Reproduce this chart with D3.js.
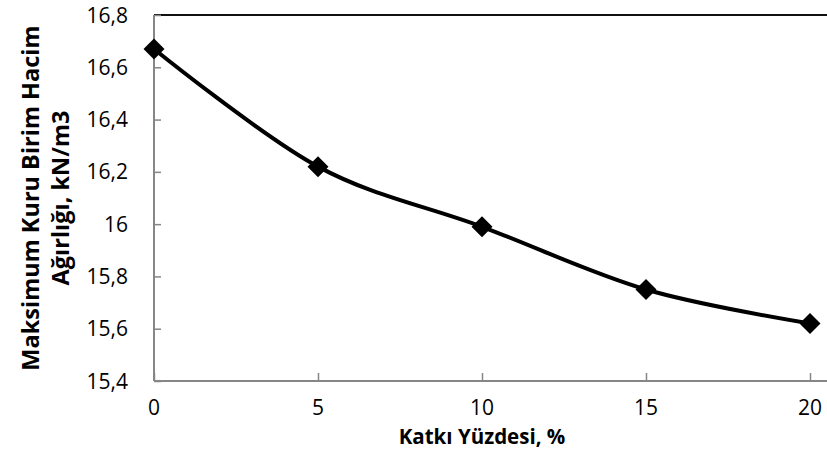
<!DOCTYPE html>
<html>
<head>
<meta charset="utf-8">
<script src="https://cdn.jsdelivr.net/npm/d3@7"></script>
<style>
  html, body { margin: 0; padding: 0; background: #fff; }
  svg { display: block; }
  text { font-family: "Open Sans", "Noto Sans", sans-serif; fill: #000; }
  .title { font-weight: bold; }
</style>
</head>
<body>
<svg id="chart" width="827" height="475"></svg>
<script>
// Additive percentage vs. maximum dry unit weight
const katki = [0, 5, 10, 15, 20];
const birimHacim = [16.67, 16.22, 15.99, 15.75, 15.62];
const xTicks = [0, 5, 10, 15, 20];
const yTicks = [15.4, 15.6, 15.8, 16.0, 16.2, 16.4, 16.6, 16.8];

const svg = d3.select("#chart");
const plotLeft = 154, plotRight = 810, plotTop = 15, plotBottom = 381;

const x = d3.scaleLinear().domain([0, 20]).range([plotLeft, plotRight]);
const y = d3.scaleLinear().domain([15.4, 16.8]).range([plotBottom, plotTop]);
const fmt = v => String(+v.toFixed(1)).replace(".", ",");

// top border line at the maximum value
svg.append("line")
  .attr("x1", plotLeft).attr("x2", 827)
  .attr("y1", y(16.8)).attr("y2", y(16.8))
  .attr("stroke", "#111").attr("stroke-width", 2);

// y axis: ticks point into the plot
const yAxis = svg.append("g")
  .attr("transform", `translate(${plotLeft},0)`)
  .call(d3.axisRight(y).tickValues(yTicks).tickSize(7).tickFormat(""));
yAxis.select(".domain").attr("stroke", "#868686").attr("stroke-width", 2).attr("d", `M0,${plotTop}V${plotBottom}`);
yAxis.selectAll(".tick line").attr("stroke", "#868686").attr("stroke-width", 1.5);

svg.append("g").selectAll("text").data(yTicks).join("text")
  .attr("x", 128).attr("y", d => y(d))
  .attr("dy", "0.36em")
  .attr("text-anchor", "end")
  .attr("font-size", 21)
  .text(fmt);

// x axis: ticks point up into the plot
const xAxis = svg.append("g")
  .attr("transform", `translate(0,${plotBottom})`)
  .call(d3.axisTop(x).tickValues(xTicks).tickSize(8).tickFormat(""));
xAxis.select(".domain").attr("stroke", "#868686").attr("stroke-width", 2).attr("d", `M${plotLeft},0H827`);
xAxis.selectAll(".tick line").attr("stroke", "#868686").attr("stroke-width", 1.5);

svg.append("g").selectAll("text").data(xTicks).join("text")
  .attr("x", d => x(d)).attr("y", 407)
  .attr("dy", "0.36em")
  .attr("text-anchor", "middle")
  .attr("font-size", 21)
  .text(d => d);

// smoothed data line
const pts = katki.map((k, i) => [k, birimHacim[i]]);
svg.append("path")
  .datum(pts)
  .attr("fill", "none")
  .attr("stroke", "#000")
  .attr("stroke-width", 4)
  .attr("d", d3.line().x(d => x(d[0])).y(d => y(d[1])).curve(d3.curveCardinal.tension(0)));

// diamond markers
svg.append("g").selectAll("path").data(pts).join("path")
  .attr("transform", d => `translate(${x(d[0])},${y(d[1])})`)
  .attr("d", "M0,-10.5L10.5,0L0,10.5L-10.5,0Z")
  .attr("fill", "#000");

// axis titles
svg.append("text")
  .attr("class", "title")
  .attr("x", 482).attr("y", 437).attr("dy", "0.36em")
  .attr("text-anchor", "middle")
  .attr("font-size", 20.5)
  .text("Katkı Yüzdesi, %");

const yt = svg.append("text")
  .attr("class", "title")
  .attr("transform", "translate(0,198) rotate(-90)")
  .attr("text-anchor", "middle")
  .attr("font-size", 23.5);
yt.append("tspan").attr("x", 0).attr("y", 39).text("Maksimum Kuru Birim Hacim");
yt.append("tspan").attr("x", 0).attr("y", 69).text("Ağırlığı, kN/m3");
</script>
</body>
</html>
